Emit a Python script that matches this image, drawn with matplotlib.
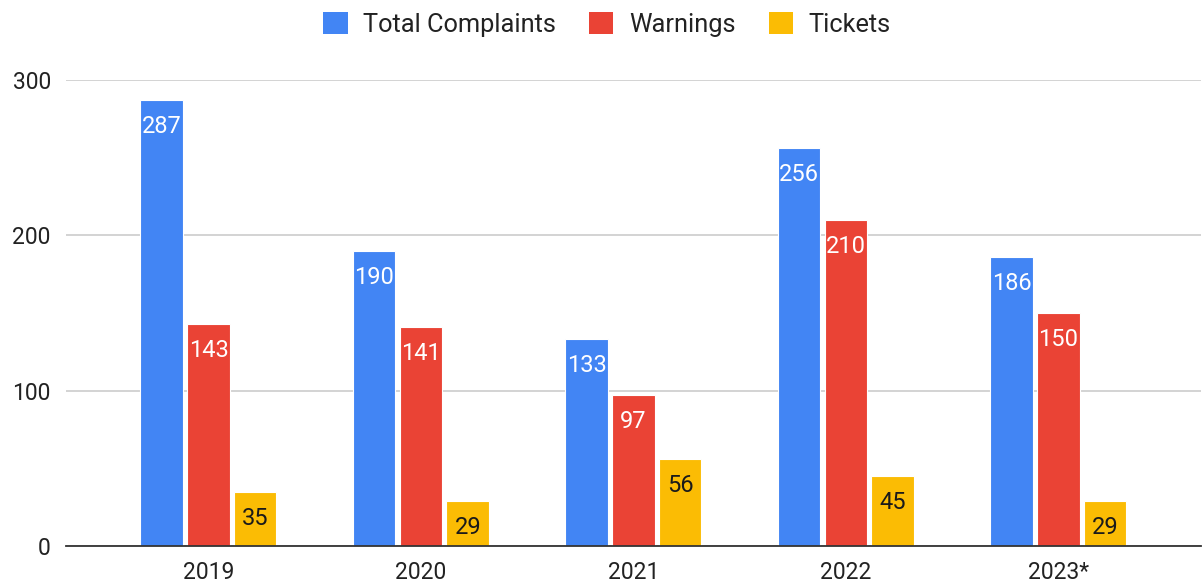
import matplotlib.pyplot as plt
from matplotlib.patches import Patch
import numpy as np

plt.rcParams['font.family'] = ['Roboto', 'DejaVu Sans']

# data
years = ['2019', '2020', '2021', '2022', '2023*']
complaints = [287, 190, 133, 256, 186]
warnings = [143, 141, 97, 210, 150]
tickets = [35, 29, 56, 45, 29]

series = [
    ('Total Complaints', complaints, '#4285F4', 'white'),
    ('Warnings', warnings, '#EA4335', 'white'),
    ('Tickets', tickets, '#FBBC04', '#1a1a1a'),
]

fig = plt.figure(figsize=(12.02, 5.88), dpi=100)
ax = fig.add_axes([0.055, 0.0714, 0.944, 0.7926])

x = np.arange(len(years))
width = 0.2
offsets = [-0.22, 0.0, 0.22]

for (name, vals, color, txtcolor), off in zip(series, offsets):
    bars = ax.bar(x + off, vals, width, color=color, edgecolor='white',
                  linewidth=0.8, zorder=3)
    for b, v in zip(bars, vals):
        ax.annotate(str(v), (b.get_x() + b.get_width() / 2, v),
                    xytext=(0, -19), textcoords='offset points',
                    ha='center', va='center', fontsize=17,
                    color=txtcolor, zorder=4)

ax.set_xlim(-0.67, 4.67)
ax.set_ylim(0, 300)
ax.set_yticks([0, 100, 200, 300])
ax.set_xticks(x)
ax.set_xticklabels(years)
ax.tick_params(axis='both', length=0, labelsize=16.5, colors='#222222')
ax.tick_params(axis='y', pad=11)
ax.tick_params(axis='x', pad=11)
ax.yaxis.grid(True, color='#cccccc', linewidth=1.2, zorder=0)
ax.set_axisbelow(True)
for side in ['top', 'right', 'left']:
    ax.spines[side].set_visible(False)
ax.spines['bottom'].set_color('#333333')
ax.spines['bottom'].set_linewidth(1.3)
ax.spines['bottom'].set_zorder(5)

handles = [Patch(facecolor=c, edgecolor='none', label=n) for n, _, c, _ in series]
fig.legend(handles=handles, loc='upper center', bbox_to_anchor=(0.505, 1.018),
           ncol=3, frameon=False, fontsize=18.3, handlelength=0.95,
           handleheight=0.95, handletextpad=0.62, columnspacing=1.3,
           labelcolor='#222222')

fig.savefig('out.png', dpi=100)
